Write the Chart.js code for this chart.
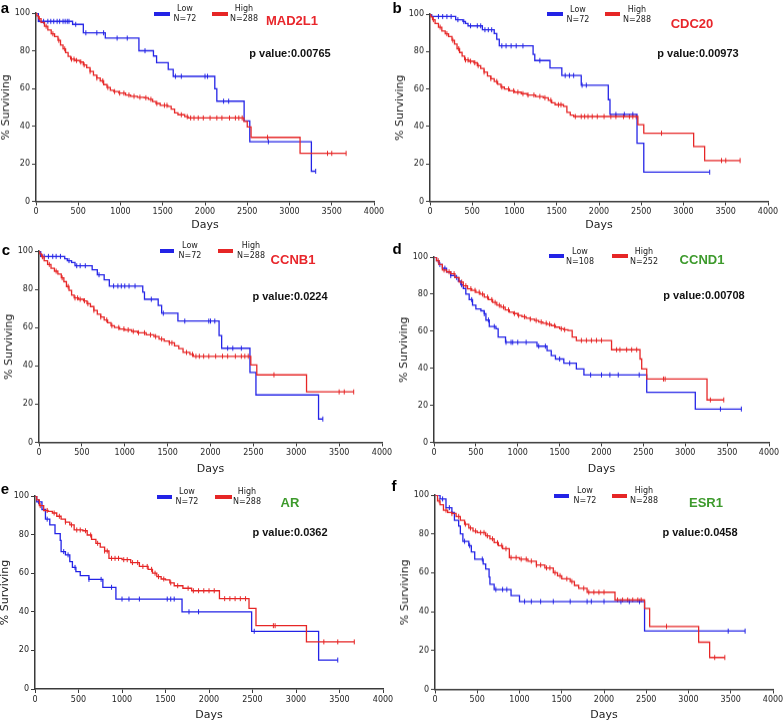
<!DOCTYPE html>
<html lang="en">
<head>
<meta charset="UTF-8" />
<title>Kaplan-Meier survival</title>
<script src="https://cdn.jsdelivr.net/npm/chart.js"></script>
<style>
  body { margin: 0; width: 784px; height: 722px; position: relative; background: #fff; overflow: hidden; font-family: "DejaVu Sans", sans-serif; }
  canvas { position: absolute; }
  .t { position: absolute; white-space: nowrap; line-height: 1; transform: translate(-50%, -50%); }
  .lg { font-size: 8px; color: #222; }
  .gene { font: bold 13px "Liberation Sans", Arial, sans-serif; }
  .pv { font: bold 11px "Liberation Sans", Arial, sans-serif; color: #111; }
  .tag { font: bold 15px "Liberation Sans", Arial, sans-serif; color: #000; }
  .bar { position: absolute; height: 4px; }
</style>
</head>
<body>
<script>
// survival steps: day of each drop and % surviving after it (first = start, last = end of follow-up)
const aLowDays  = [0, 28, 433, 560, 820, 1218, 1390, 1427, 1565, 1624, 2116, 2140, 2463, 2530, 3259, 3310];
const aLowSurv  = [100, 95.6, 94, 89.5, 86.7, 80, 77.2, 73.7, 70.1, 66.4, 59.8, 53.2, 42.7, 31.7, 16, 16];
const aLowCens  = [90, 140, 175, 210, 250, 280, 320, 345, 370, 390, 470, 590, 720, 800, 960, 1080, 1290, 1650, 1720, 2000, 2030, 2220, 2280, 2750, 3310];
const aHighDays = [0, 10, 30, 60, 100, 140, 180, 220, 260, 290, 320, 350, 380, 410, 460, 520, 560, 600, 640, 680, 720, 760, 800, 840, 880, 920, 980, 1060, 1120, 1200, 1280, 1330, 1380, 1420, 1470, 1560, 1600, 1640, 1680, 1760, 1800, 2460, 2500, 2545, 3125, 3670];
const aHighSurv = [100, 98.5, 97, 95, 93, 91, 89, 87.5, 85.5, 83, 81, 79, 77, 75.5, 74.8, 74, 72.5, 71, 69, 67, 65.5, 64, 62, 60.5, 59, 58.3, 57.5, 56.5, 55.8, 55.3, 55, 54.2, 53, 52, 51, 50.5, 49, 47, 46, 45, 44.3, 42.5, 39.5, 34, 25.5, 25.5];
const aHighCens = [40, 120, 200, 270, 340, 420, 450, 480, 530, 570, 640, 720, 790, 850, 930, 990, 1040, 1100, 1160, 1230, 1300, 1360, 1430, 1520, 1550, 1720, 1790, 1830, 1870, 1920, 1980, 2060, 2140, 2200, 2290, 2360, 2400, 2440, 2740, 3450, 3500, 3670];

const bLowDays  = [0, 20, 304, 390, 420, 450, 620, 760, 790, 820, 1220, 1240, 1420, 1560, 1790, 2110, 2130, 2450, 2530, 3310];
const bLowSurv  = [100, 98.7, 97, 96, 95, 93.7, 91.6, 89.6, 86.5, 83, 78.5, 75.2, 71.2, 67.2, 62, 54.3, 46.4, 31, 15.6, 15.6];
const bLowCens  = [100, 150, 200, 250, 330, 400, 480, 560, 600, 650, 690, 730, 850, 900, 960, 1020, 1100, 1300, 1600, 1650, 1700, 1800, 1850, 2200, 2300, 2400, 3310];
const bHighDays = [0, 10, 30, 60, 100, 140, 180, 220, 260, 290, 320, 350, 380, 410, 460, 520, 560, 600, 640, 680, 720, 760, 800, 840, 880, 940, 1000, 1080, 1150, 1250, 1340, 1400, 1440, 1480, 1580, 1620, 1660, 1700, 2460, 2530, 3120, 3250, 3670];
const bHighSurv = [100, 98.5, 97, 95, 93, 91, 89.5, 88, 86, 84, 81.5, 79.5, 77.5, 75.5, 74.8, 74, 72.5, 71, 69, 67, 65.5, 64, 62.5, 61, 60, 59, 58.3, 57.5, 56.8, 56, 55.3, 54, 52.6, 51.6, 50.7, 47.5, 46, 45.3, 41, 36.4, 29.3, 21.8, 21.8];
const bHighCens = [40, 120, 200, 270, 340, 420, 450, 480, 530, 570, 640, 720, 790, 850, 930, 990, 1040, 1100, 1160, 1230, 1300, 1360, 1430, 1520, 1550, 1720, 1790, 1830, 1870, 1920, 1980, 2060, 2140, 2200, 2290, 2360, 2400, 2440, 2740, 3450, 3500, 3670];

const cLowDays  = [0, 20, 300, 330, 380, 420, 620, 680, 760, 820, 1210, 1230, 1390, 1430, 1620, 2100, 2130, 2460, 2530, 3260, 3310];
const cLowSurv  = [100, 97.2, 96, 95, 94, 92.3, 90.2, 87.6, 85, 81.7, 78.5, 74.8, 71.6, 67.5, 63.4, 55.8, 49.2, 36.6, 24.8, 12.2, 12.2];
const cLowCens  = [60, 110, 160, 200, 250, 350, 440, 480, 540, 700, 870, 920, 960, 1000, 1050, 1120, 1310, 1450, 1700, 1980, 2000, 2050, 2200, 2260, 2360, 3310];
const cHighDays = [0, 10, 30, 60, 100, 140, 180, 220, 260, 290, 320, 350, 380, 410, 460, 520, 560, 600, 640, 680, 720, 760, 800, 840, 880, 940, 1000, 1080, 1150, 1250, 1340, 1400, 1460, 1520, 1580, 1630, 1680, 1760, 1800, 2470, 2540, 3120, 3670];
const cHighSurv = [100, 98.5, 97, 95, 93, 91, 89.5, 88, 86, 84, 81.5, 79.5, 77, 75.5, 74.8, 74, 72.5, 71, 69, 67, 65.5, 64, 62.5, 61, 60, 59.3, 58.8, 58, 57.3, 56.2, 55.3, 54, 53, 52, 50.5, 49, 47, 46, 45, 40.5, 35.3, 26.4, 26.4];
const cHighCens = [40, 120, 200, 270, 340, 420, 450, 480, 530, 570, 640, 720, 790, 850, 930, 990, 1040, 1100, 1160, 1230, 1300, 1360, 1430, 1520, 1550, 1720, 1790, 1830, 1870, 1920, 1980, 2060, 2140, 2200, 2290, 2360, 2400, 2440, 2740, 3500, 3560, 3670];

const dLowDays  = [0, 30, 60, 100, 150, 200, 250, 290, 320, 350, 380, 420, 460, 500, 560, 600, 620, 660, 740, 766, 854, 1230, 1350, 1400, 1450, 1550, 1700, 1790, 2540, 3120, 3670];
const dLowSurv  = [100, 98, 96, 94, 92, 90, 89, 87, 85, 83, 80, 77, 74, 72, 71, 69.4, 66, 62.5, 61.3, 56.8, 54, 51.9, 49.5, 46.8, 45, 42.7, 39.6, 36.4, 27, 18, 18];
const dLowCens  = [70, 130, 200, 270, 330, 450, 600, 650, 720, 860, 920, 940, 1000, 1100, 1250, 1330, 1500, 1620, 1870, 2000, 2100, 2200, 2450, 3420, 3670];
const dHighDays = [0, 30, 60, 100, 150, 200, 250, 300, 350, 400, 450, 500, 550, 600, 650, 700, 750, 800, 850, 900, 950, 1000, 1050, 1100, 1150, 1200, 1250, 1300, 1350, 1400, 1450, 1500, 1550, 1600, 1650, 1700, 2120, 2460, 2480, 2540, 3260, 3460];
const dHighSurv = [100, 98, 96, 93, 92, 91, 89, 86.5, 84.5, 82.9, 82, 81, 80, 78.4, 77, 75.5, 74, 73, 71.5, 70.3, 69.5, 68.5, 67.8, 67, 66.5, 65.8, 65, 64.3, 63.8, 63, 62.2, 61.3, 60.8, 60.4, 56.8, 55, 50, 45, 39.6, 34.2, 22.9, 22.9];
const dHighCens = [50, 120, 180, 240, 330, 380, 440, 490, 540, 580, 640, 690, 730, 780, 830, 890, 960, 1010, 1080, 1150, 1220, 1280, 1340, 1380, 1440, 1520, 1560, 1760, 1820, 1880, 1940, 2000, 2180, 2220, 2300, 2360, 2420, 2740, 2760, 3300, 3460];

const eLowDays  = [0, 20, 80, 120, 170, 230, 290, 300, 350, 400, 430, 470, 520, 620, 780, 930, 1690, 2490, 3260, 3480];
const eLowSurv  = [100, 97, 93, 88, 85, 80.5, 77, 71.2, 69.5, 66, 63, 60.8, 58.7, 56.8, 52.7, 46.6, 40, 29.9, 15, 15];
const eLowCens  = [40, 140, 330, 380, 460, 620, 760, 880, 1000, 1080, 1200, 1520, 1560, 1600, 1770, 1880, 2520, 3480];
const eHighDays = [0, 20, 50, 100, 150, 200, 250, 300, 350, 400, 450, 550, 600, 650, 700, 750, 800, 850, 1000, 1100, 1200, 1300, 1350, 1400, 1450, 1500, 1550, 1600, 1700, 1800, 2120, 2460, 2540, 3120, 3670];
const eHighSurv = [100, 98, 95, 92.5, 92, 91.2, 89.5, 88, 86.5, 85, 82.4, 82, 79.8, 77.5, 75.5, 73.5, 71.5, 67.7, 67, 65.5, 63.5, 62, 60, 58.2, 57, 56.5, 55, 53.5, 52.2, 50.9, 46.8, 41.8, 32.8, 24.4, 24.4];
const eHighCens = [60, 140, 220, 280, 350, 420, 480, 520, 580, 640, 720, 800, 830, 880, 920, 960, 1020, 1060, 1120, 1180, 1240, 1290, 1340, 1380, 1420, 1480, 1560, 1640, 1760, 1820, 1880, 1940, 2000, 2060, 2180, 2240, 2300, 2360, 2420, 2740, 2760, 3320, 3480, 3670];

const fLowDays  = [0, 60, 130, 200, 230, 280, 300, 330, 400, 430, 470, 570, 600, 640, 650, 700, 900, 1000, 2480, 3670];
const fLowSurv  = [100, 98, 93.5, 91, 87, 84, 80, 76.2, 74, 70.7, 67, 64.5, 62, 57.8, 54.1, 51.4, 48.3, 45.2, 30, 30];
const fLowCens  = [90, 170, 350, 410, 560, 720, 800, 850, 1060, 1140, 1250, 1400, 1600, 1800, 1850, 2000, 2200, 2300, 2420, 3470, 3670];
const fHighDays = [0, 30, 60, 100, 150, 200, 250, 300, 350, 400, 450, 500, 600, 650, 700, 750, 800, 880, 1000, 1100, 1200, 1300, 1400, 1450, 1500, 1600, 1650, 1700, 1800, 2130, 2480, 2540, 3120, 3250, 3430];
const fHighSurv = [100, 97, 95, 92.2, 91, 90.5, 89, 87, 85, 83, 81.5, 80.7, 79, 77.5, 75.5, 74, 72.4, 67.8, 67, 66, 64, 62.5, 60, 58.5, 56.9, 55.5, 53.5, 52, 50, 46, 41.7, 32.4, 24.3, 16.4, 16.4];
const fHighCens = [50, 130, 200, 280, 360, 420, 480, 540, 580, 620, 680, 740, 790, 840, 900, 960, 1020, 1080, 1140, 1200, 1250, 1320, 1360, 1420, 1480, 1560, 1620, 1760, 1820, 1880, 1940, 2000, 2160, 2220, 2280, 2340, 2400, 2440, 2740, 3310, 3430];

const panelTags  = ['a', 'b', 'c', 'd', 'e', 'f'];
const geneNames  = ['MAD2L1', 'CDC20', 'CCNB1', 'CCND1', 'AR', 'ESR1'];
const pValues    = ['0.00765', '0.00973', '0.0224', '0.00708', '0.0362', '0.0458'];
const lowCounts  = [72, 72, 72, 108, 72, 72];
const highCounts = [288, 288, 288, 252, 288, 288];
const xTicks = [0, 500, 1000, 1500, 2000, 2500, 3000, 3500, 4000];
const yTicks = [0, 20, 40, 60, 80, 100];

const series = [
  [aLowDays, aLowSurv, aLowCens, aHighDays, aHighSurv, aHighCens],
  [bLowDays, bLowSurv, bLowCens, bHighDays, bHighSurv, bHighCens],
  [cLowDays, cLowSurv, cLowCens, cHighDays, cHighSurv, cHighCens],
  [dLowDays, dLowSurv, dLowCens, dHighDays, dHighSurv, dHighCens],
  [eLowDays, eLowSurv, eLowCens, eHighDays, eHighSurv, eHighCens],
  [fLowDays, fLowSurv, fLowCens, fHighDays, fHighSurv, fHighCens]
];

// layout of each panel on the page (plot box, legend, labels)
const boxes = [
  { L: 36, R: 374, T: 13, B: 201, xh: 30.5, lowX: 185, highX: 244, legY: 9, bl: [154, 170], br: [212, 228], barY: 13.5, gene: [292, 20], pv: [290, 53], tag: [5, 7], geneColor: '#e8262b' },
  { L: 430, R: 768, T: 14, B: 201, xh: 30.5, lowX: 578, highX: 637, legY: 9.5, bl: [547, 563], br: [605, 620], barY: 14, gene: [692, 22.5], pv: [698, 53], tag: [397, 7], geneColor: '#e8262b' },
  { L: 39, R: 382, T: 251, B: 442, xh: 33.5, lowX: 190, highX: 251, legY: 245.5, bl: [160, 174], br: [218, 233], barY: 250.5, gene: [293, 259], pv: [290, 295.5], tag: [6, 249], geneColor: '#e8262b' },
  { L: 434, R: 769, T: 257, B: 442, xh: 33.5, lowX: 580, highX: 644, legY: 252, bl: [549, 564], br: [612, 628], barY: 256, gene: [702, 259], pv: [704, 295], tag: [397, 248], geneColor: '#3d9a2c' },
  { L: 35, R: 383, T: 496, B: 689, xh: 33, lowX: 187, highX: 247, legY: 492, bl: [157, 172], br: [215, 232], barY: 496.5, gene: [290, 502], pv: [290, 532], tag: [5, 488], geneColor: '#3d9a2c' },
  { L: 435, R: 773, T: 495, B: 689, xh: 32.5, lowX: 585, highX: 644, legY: 491, bl: [554, 569], br: [612, 627], barY: 495.5, gene: [706, 502], pv: [700, 532], tag: [394, 485], geneColor: '#3d9a2c' }
];

const BLUE = '#2323e6';
const RED = '#e62626';
const AXIS = '#3a3a3a';
const Y_W = 36, PAD_T = 10, PAD_R = 14;

function steps(days, surv) {
  return days.map((d, i) => ({ x: d, y: surv[i] }));
}
function survAt(days, surv, t) {
  let s = surv[0];
  for (let i = 0; i < days.length; i++) if (days[i] <= t) s = surv[i];
  return s;
}
function censPoints(days, surv, cens) {
  return cens.map(t => ({ x: t, y: survAt(days, surv, t) }));
}
function addText(x, y, text, cls, color) {
  const el = document.createElement('div');
  el.className = 't ' + cls;
  el.style.left = x + 'px';
  el.style.top = y + 'px';
  if (color) el.style.color = color;
  el.textContent = text;
  document.body.appendChild(el);
}
function addBar(x0, x1, y, color) {
  const el = document.createElement('div');
  el.className = 'bar';
  el.style.left = x0 + 'px';
  el.style.width = (x1 - x0) + 'px';
  el.style.top = (y - 2) + 'px';
  el.style.background = color;
  document.body.appendChild(el);
}

const tickFont = { family: '"DejaVu Sans", sans-serif', size: 8 };
const titleFont = { family: '"DejaVu Sans", sans-serif', size: 11 };

boxes.forEach((b, i) => {
  const [lD, lS, lC, hD, hS, hC] = series[i];
  const cv = document.createElement('canvas');
  const w = (b.R - b.L) + Y_W + PAD_R;
  const h = (b.B - b.T) + PAD_T + b.xh;
  cv.width = w; cv.height = h;
  cv.style.width = w + 'px'; cv.style.height = h + 'px';
  cv.style.left = (b.L - Y_W) + 'px';
  cv.style.top = (b.T - PAD_T) + 'px';
  document.body.appendChild(cv);

  new Chart(cv.getContext('2d'), {
    type: 'line',
    data: {
      datasets: [
        { data: steps(hD, hS), borderColor: RED, borderWidth: 1.3, stepped: 'before', pointRadius: 0, fill: false },
        { data: steps(lD, lS), borderColor: BLUE, borderWidth: 1.3, stepped: 'before', pointRadius: 0, fill: false },
        { type: 'scatter', data: censPoints(hD, hS, hC), pointStyle: 'line', rotation: 90, radius: 2.5, borderColor: RED, borderWidth: 1, showLine: false },
        { type: 'scatter', data: censPoints(lD, lS, lC), pointStyle: 'line', rotation: 90, radius: 2.5, borderColor: BLUE, borderWidth: 1, showLine: false }
      ]
    },
    options: {
      responsive: false,
      animation: false,
      events: [],
      layout: { padding: { top: PAD_T, right: PAD_R, left: 0, bottom: 0 } },
      plugins: { legend: { display: false }, tooltip: { enabled: false } },
      scales: {
        x: {
          type: 'linear', min: 0, max: 4000,
          afterBuildTicks: s => { s.ticks = xTicks.map(v => ({ value: v })); },
          afterFit: s => { s.height = b.xh; },
          ticks: { font: tickFont, color: '#222', padding: 2, maxRotation: 0, autoSkip: false, callback: v => String(v) },
          grid: { drawOnChartArea: false, tickLength: 4, color: AXIS, lineWidth: 1 },
          border: { color: AXIS, width: 1.5 },
          title: { display: true, text: 'Days', font: titleFont, color: '#222', padding: 0 }
        },
        y: {
          min: 0, max: 100,
          afterBuildTicks: s => { s.ticks = yTicks.map(v => ({ value: v })); },
          afterFit: s => { s.width = Y_W; },
          ticks: { font: tickFont, color: '#222', padding: 2, callback: v => String(v) },
          grid: { drawOnChartArea: false, tickLength: 4, color: AXIS, lineWidth: 1 },
          border: { color: AXIS, width: 1.5 },
          title: { display: true, text: '% Surviving', font: titleFont, color: '#222', padding: 0 }
        }
      }
    }
  });

  addBar(b.bl[0], b.bl[1], b.barY, BLUE);
  addBar(b.br[0], b.br[1], b.barY, RED);
  addText(b.lowX, b.legY, 'Low', 'lg');
  addText(b.lowX, b.legY + 10, 'N=' + lowCounts[i], 'lg');
  addText(b.highX, b.legY, 'High', 'lg');
  addText(b.highX, b.legY + 10, 'N=' + highCounts[i], 'lg');
  addText(b.gene[0], b.gene[1], geneNames[i], 'gene', b.geneColor);
  addText(b.pv[0], b.pv[1], 'p value:' + pValues[i], 'pv');
  addText(b.tag[0], b.tag[1], panelTags[i], 'tag');
});
</script>
</body>
</html>
